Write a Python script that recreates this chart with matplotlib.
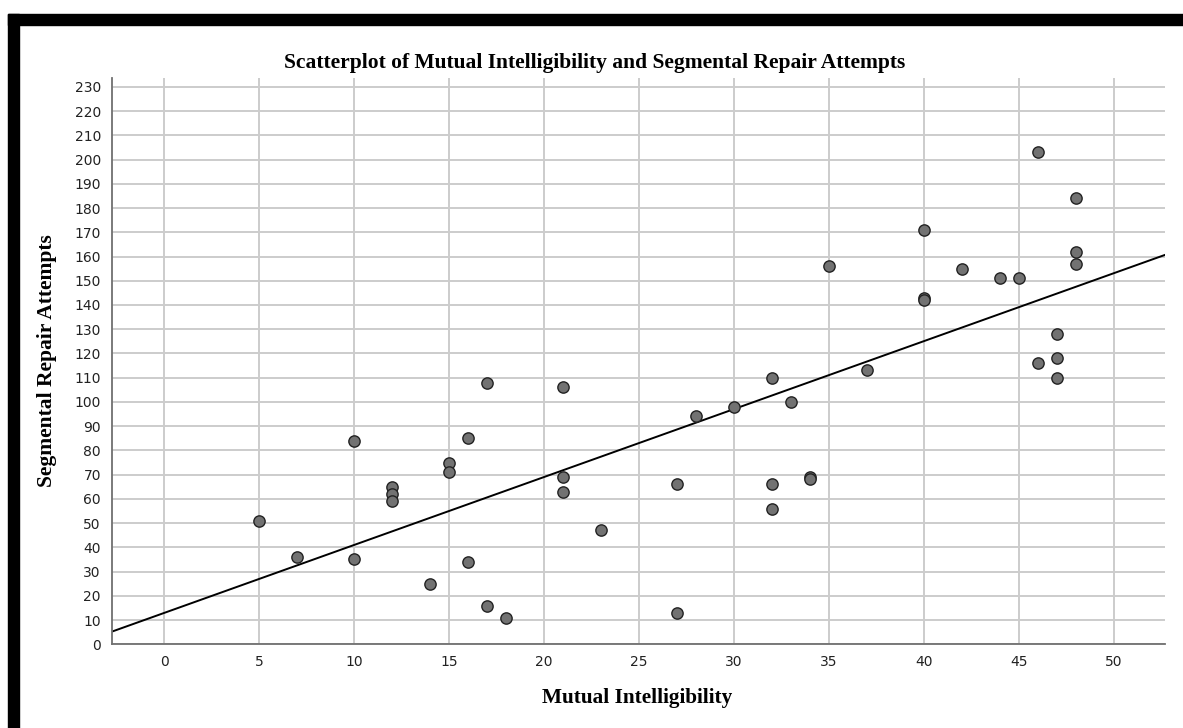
import numpy as np
import matplotlib.pyplot as plt
from matplotlib.patches import Rectangle

# Mutual Intelligibility (x) and Segmental Repair Attempts (y)
intelligibility = [5, 7, 10, 10, 12, 12, 12, 14, 15, 15, 16, 16, 17, 17, 18,
                   21, 21, 21, 23, 27, 27, 28, 30, 32, 32, 32, 33, 34, 34,
                   35, 37, 40, 40, 40, 42, 44, 45, 46, 46, 47, 47, 47, 48, 48, 48]
repairs = [51, 36, 84, 35, 65, 62, 59, 25, 75, 71, 85, 34, 108, 16, 11,
           106, 69, 63, 47, 66, 13, 94, 98, 110, 66, 56, 100, 69, 68,
           156, 113, 171, 143, 142, 155, 151, 151, 203, 116, 128, 118, 110, 184, 162, 157]

x = np.array(intelligibility)
y = np.array(repairs)
slope, intercept = np.polyfit(x, y, 1)

fig = plt.figure(figsize=(11.83, 7.28), dpi=100)
ax = fig.add_axes([0.0947, 0.115, 0.890, 0.778])

ax.set_xlim(-2.74, 52.68)
ax.set_ylim(0, 233.7)
ax.set_xticks(np.arange(0, 51, 5))
ax.set_yticks(np.arange(0, 231, 10))
ax.grid(True, color="#cccccc", linewidth=1.4)
ax.set_axisbelow(True)
ax.tick_params(length=0, labelsize=10, colors="#222222", pad=8)

for s in ["top", "right"]:
    ax.spines[s].set_visible(False)
for s in ["left", "bottom"]:
    ax.spines[s].set_color("#707070")
    ax.spines[s].set_linewidth(1.3)

xl = np.array(ax.get_xlim())
ax.plot(xl, intercept + slope * xl, color="black", linewidth=1.4, zorder=2)
ax.scatter(x, y, s=66, facecolor="#727272", edgecolor="#222222",
           linewidth=1.0, zorder=3)

serif = ["Liberation Serif", "DejaVu Serif"]
fig.text(0.503, 0.914, "Scatterplot of Mutual Intelligibility and Segmental Repair Attempts",
         ha="center", va="center", fontsize=15.5, fontweight="bold", family=serif)
fig.text(0.5385, 0.041, "Mutual Intelligibility", ha="center", va="center",
         fontsize=15.3, fontweight="bold", family=serif)
fig.text(0.040, 0.505, "Segmental Repair Attempts", ha="center", va="center",
         rotation=90, fontsize=15.5, fontweight="bold", family=serif)

# black frame along top and left
fig.patches.append(Rectangle((8 / 1183, 0), 11 / 1183, 1 - 14 / 728,
                             transform=fig.transFigure, color="black"))
fig.patches.append(Rectangle((8 / 1183, 1 - 25 / 728), 1, 11 / 728,
                             transform=fig.transFigure, color="black"))

fig.savefig("out.png", dpi=100)
